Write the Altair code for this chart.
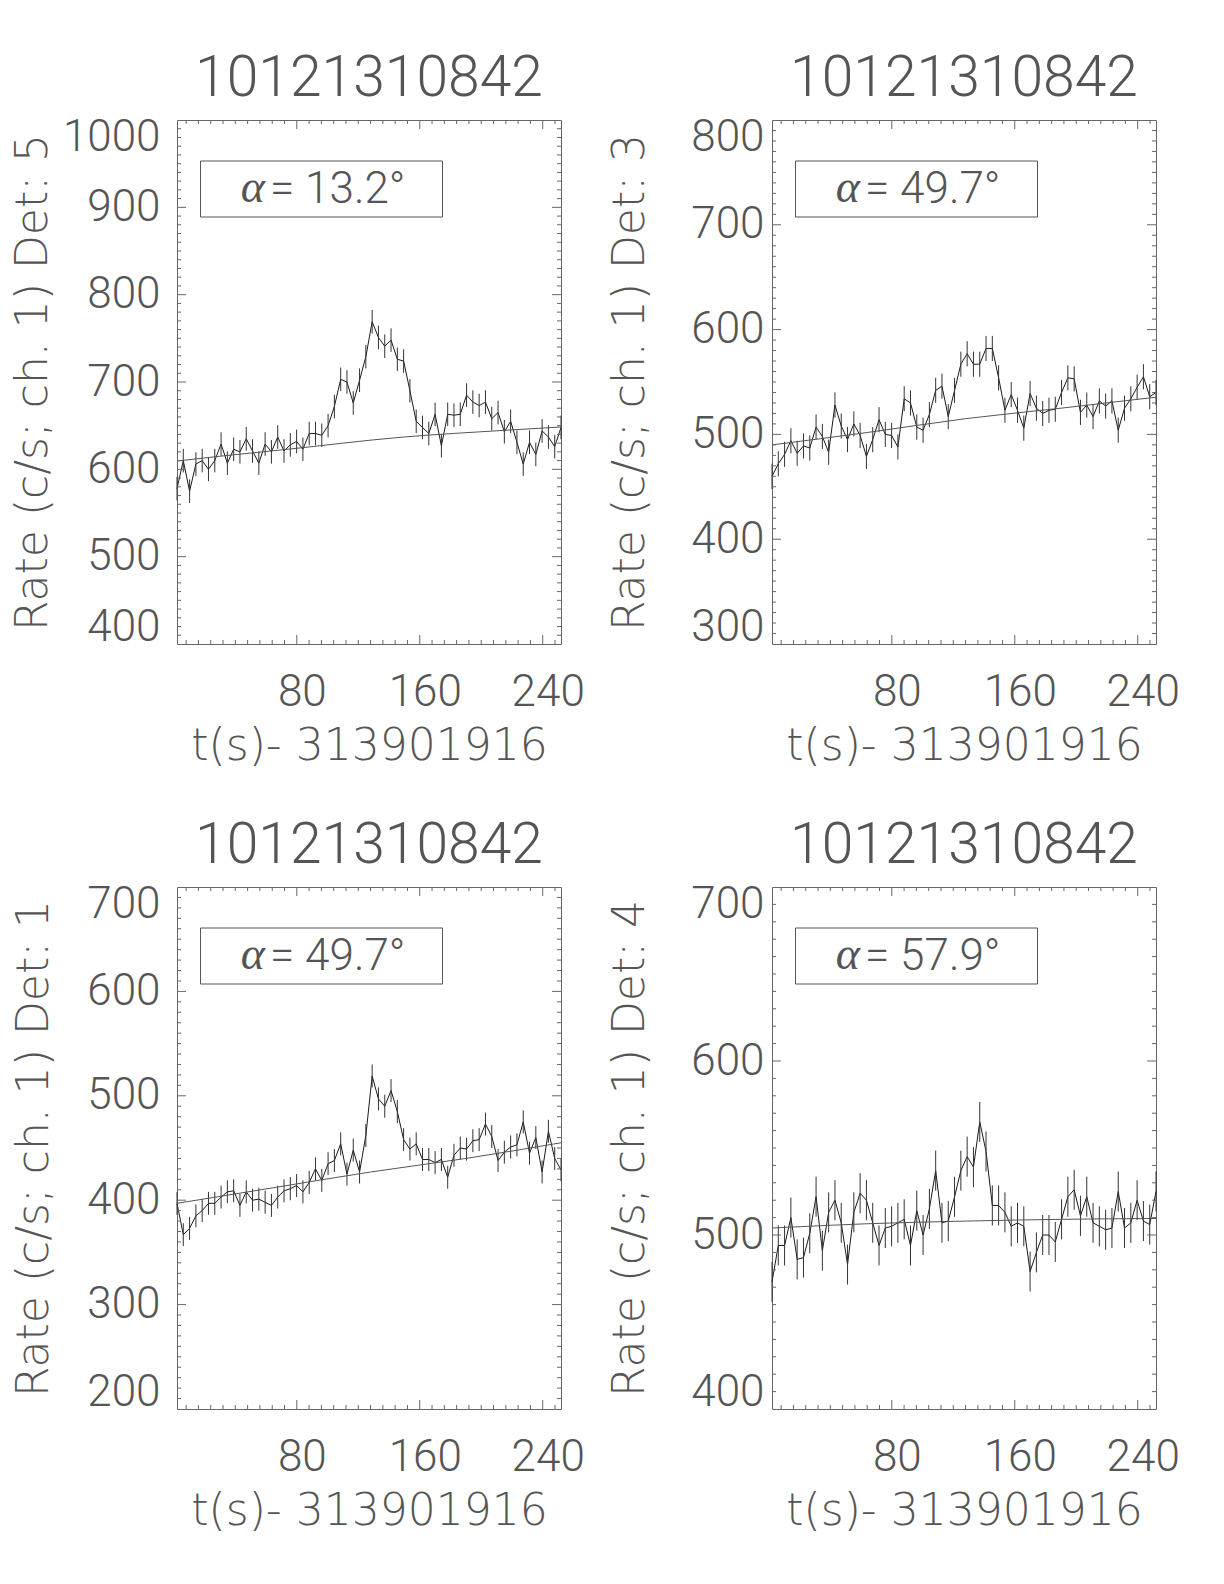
import altair as alt
import pandas as pd

# ---------------- data ----------------
T0 = 2.048          # centre of first 4.096 s bin
BIN = 4.096
N_BINS = 62
X_DOMAIN = [2.048, 251.904]
X_LABELS = [80, 160, 240]
X_MINOR = [8, 16, 24, 32, 40, 48, 56, 64, 72, 88, 96, 104, 112, 120, 128, 136, 144, 152,
           168, 176, 184, 192, 200, 208, 216, 224, 232, 248]

panel_title = "10121310842"
x_title = "t(s)- 313901916"
y_titles = ["Rate (c/s; ch. 1) Det: 5", "Rate (c/s; ch. 1) Det: 3",
            "Rate (c/s; ch. 1) Det: 1", "Rate (c/s; ch. 1) Det: 4"]
alpha_vals = ["13.2", "49.7", "49.7", "57.9"]
y_domains = [[400, 1000], [300, 800], [200, 700], [400, 700]]

rate_det5 = [578, 610, 575, 606, 610, 600, 610, 629, 607, 623,
             620, 635, 621, 607, 629, 620, 637, 621, 628, 632,
             623, 641, 641, 639, 650, 672, 703, 700, 676, 702,
             729, 769, 751, 741, 748, 726, 724, 690, 655, 648,
             641, 663, 627, 663, 662, 663, 685, 677, 673, 677,
             658, 665, 643, 655, 631, 606, 631, 617, 644, 637,
             626, 648]
rate_det3 = [460, 472, 481, 494, 482, 489, 487, 507, 498, 483,
             528, 508, 495, 510, 499, 479, 495, 514, 500, 499,
             488, 534, 530, 507, 504, 519, 542, 546, 517, 542,
             567, 577, 567, 567, 582, 582, 554, 523, 538, 523,
             506, 539, 525, 520, 523, 524, 540, 554, 553, 521,
             528, 517, 532, 527, 532, 504, 525, 534, 545, 555,
             536, 540]
rate_det1 = [397, 367, 373, 385, 390, 397, 397, 403, 408, 409,
             395, 408, 400, 401, 398, 395, 403, 409, 411, 414,
             408, 417, 430, 419, 435, 438, 454, 425, 448, 427,
             462, 519, 497, 490, 505, 485, 458, 449, 454, 439,
             439, 436, 439, 422, 443, 450, 449, 457, 458, 473,
             461, 438, 446, 451, 453, 475, 445, 460, 427, 466,
             440, 429]
rate_det4 = [473, 494, 494, 510, 486, 487, 501, 522, 491, 513,
             520, 507, 483, 513, 524, 520, 507, 494, 504, 505,
             507, 509, 494, 514, 500, 515, 537, 507, 508, 522,
             537, 545, 539, 565, 548, 517, 517, 513, 505, 507,
             505, 479, 490, 500, 500, 496, 509, 522, 526, 511,
             522, 507, 505, 503, 504, 525, 504, 507, 520, 508,
             506, 525]
rates = [rate_det5, rate_det3, rate_det1, rate_det4]
err_half = [13.5, 12.0, 11.0, 11.5]   # half length of the error bars

model_t = [[2.048, 30, 71.5, 149.6, 214.7, 251.904],
           [2.048, 65, 128, 190, 251.904],
           [2.048, 65, 128, 190, 251.904],
           [2.048, 65, 128, 190, 251.904]]
model_v = [[609.5, 615, 622.5, 637, 644.6, 648.5],
           [490, 502, 515, 525, 535.5],
           [397, 412, 427, 440, 455],
           [504, 506.5, 508, 509, 509.5]]

# ---------------- style ----------------
FONT = "Roboto"
TFONT = "DejaVu Sans"
WEIGHT = 300
TXT = "#555555"
FRAME = "#666666"
W = 384
HEIGHTS = [524, 524, 522, 522]
LABEL_PAD = [17, 8, 17, 8]
TITLE_PAD = [7, 38, 30, 38]

t_vals = [T0 + BIN * i for i in range(N_BINS)]


def panel(k):
    H = HEIGHTS[k]
    ylo, yhi = y_domains[k]
    y_labels = list(range(ylo, yhi + 1, 100))
    y_major_inner = [v for v in y_labels if ylo < v < yhi]
    y_minor = [v for v in range(ylo + 10, yhi, 10) if v % 100 != 0]

    xs = alt.Scale(domain=X_DOMAIN, nice=False, zero=False)
    ys = alt.Scale(domain=[ylo, yhi], nice=False, zero=False)

    df = pd.DataFrame({"t": t_vals, "rate": rates[k]})
    df["lo"] = df["rate"] - err_half[k]
    df["hi"] = df["rate"] + err_half[k]
    mdf = pd.DataFrame({"t": model_t[k], "m": model_v[k]})

    x_axis = alt.Axis(values=X_LABELS, title=x_title, grid=False, domain=False,
                      ticks=False, labelPadding=26, titlePadding=10, labelOffset=5,
                      labelFlush=False, labelOverlap=False, format="d")
    y_axis = alt.Axis(values=y_labels, title=y_titles[k], grid=False, domain=False,
                      ticks=False, labelPadding=LABEL_PAD[k],
                      titlePadding=TITLE_PAD[k], labelFlush=True, labelFlushOffset=5,
                      labelOverlap=False, format="d")

    line = alt.Chart(df).mark_line(color="#1a1a1a", strokeWidth=1).encode(
        x=alt.X("t:Q", scale=xs, axis=x_axis),
        y=alt.Y("rate:Q", scale=ys, axis=y_axis),
    )
    err = alt.Chart(df).mark_rule(color="#333333", strokeWidth=1).encode(
        x=alt.X("t:Q", scale=xs),
        y=alt.Y("lo:Q", scale=ys),
        y2="hi:Q",
    )
    model = alt.Chart(mdf).mark_line(color="#555555", strokeWidth=1,
                                     interpolate="monotone").encode(
        x=alt.X("t:Q", scale=xs),
        y=alt.Y("m:Q", scale=ys),
    )

    # inward tick marks on all four sides
    ymin_df = pd.DataFrame({"v": y_minor})
    ymaj_df = pd.DataFrame({"v": y_major_inner})
    xmin_df = pd.DataFrame({"v": X_MINOR})
    xmaj_df = pd.DataFrame({"v": X_LABELS})

    def yt(d, x1, x2):
        return alt.Chart(d).mark_rule(color=FRAME, strokeWidth=1).encode(
            y=alt.Y("v:Q", scale=ys), x=alt.value(x1), x2=alt.value(x2))

    def xt(d, y1, y2):
        return alt.Chart(d).mark_rule(color=FRAME, strokeWidth=1).encode(
            x=alt.X("v:Q", scale=xs), y=alt.value(y1), y2=alt.value(y2))

    ticks = [yt(ymin_df, 0, 4), yt(ymaj_df, 0, 9), yt(ymin_df, W - 4, W), yt(ymaj_df, W - 9, W),
             xt(xmin_df, H, H - 4), xt(xmaj_df, H, H - 9), xt(xmin_df, 0, 4), xt(xmaj_df, 0, 9)]

    one = pd.DataFrame({"a": [0]})
    box = alt.Chart(one).mark_rect(filled=False, stroke="#555555", strokeWidth=1).encode(
        x=alt.value(23.5), x2=alt.value(265.5), y=alt.value(41), y2=alt.value(97))
    a_sym = alt.Chart(one).mark_text(text="α", font="Liberation Serif", fontSize=46,
                                     fontStyle="italic", color=TXT, align="right",
                                     baseline="middle").encode(
        x=alt.value(88), y=alt.value(68))
    a_txt = alt.Chart(one).mark_text(text="= " + alpha_vals[k] + "°", font=FONT,
                                     fontWeight=WEIGHT, fontSize=44, color=TXT,
                                     align="left", baseline="middle").encode(
        x=alt.value(93), y=alt.value(70))

    return alt.layer(line, err, model, *ticks, box, a_sym, a_txt).properties(
        width=W, height=H,
        title=alt.TitleParams(text=panel_title, fontSize=57, font=FONT,
                              fontWeight=WEIGHT, color=TXT, anchor="middle",
                              baseline="bottom", offset=-50),
    )


chart = alt.concat(*[panel(k) for k in range(4)], columns=2,
                   spacing=alt.RowColnumber(row=47, column=23)).properties(
    padding={"left": 2, "top": 41, "right": 5, "bottom": 5}
).configure_view(stroke=FRAME, strokeWidth=1).configure_axis(
    labelFont=FONT, labelFontSize=44, labelFontWeight=WEIGHT, labelColor=TXT,
    titleFont=TFONT, titleFontSize=44, titleFontWeight=200, titleColor=TXT,
)

chart.save("out.html", embed_options={"renderer": "svg", "actions": False})
